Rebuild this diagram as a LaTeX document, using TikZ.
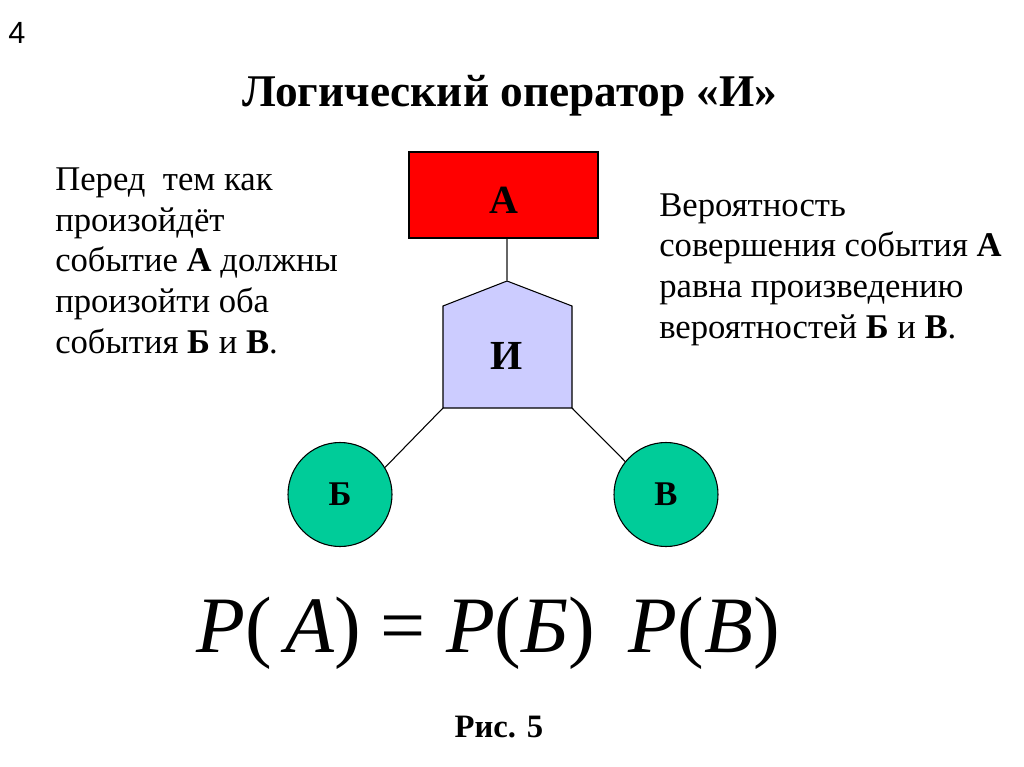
\documentclass[tikz,border=0pt]{standalone}
\usepackage{fontspec}
\setmainfont{Liberation Serif}
\newfontfamily\pagefont{Liberation Sans}
\definecolor{topred}{RGB}{255,0,0}
\definecolor{gatefill}{RGB}{204,204,255}
\definecolor{leaffill}{RGB}{0,204,153}

\begin{document}
\begin{tikzpicture}[x=0.75pt,y=-0.75pt,
    txt/.style={align=left,anchor=base west,inner sep=0pt,font=\fontsize{26}{30.4}\selectfont},
    leaf/.style={circle,draw,line width=0.8pt,fill=leaffill,minimum size=78pt,inner sep=0pt,font=\fontsize{26}{30}\selectfont\bfseries},
    link/.style={line width=0.8pt}
    ]
  \useasboundingbox (0,0) rectangle (1024,767);
  \node [anchor=base west,inner sep=0pt,font=\pagefont\fontsize{23}{27}\selectfont] (page) at (8,44) {4};
  \node [anchor=base,inner sep=0pt,font=\fontsize{34}{40}\selectfont\bfseries] (title) at (510,107) {Логический оператор «И»};
  % base of a multi-line node is its last line
  \node [txt] (left) at (55,353) {Перед~ тем как\\произойдёт\\событие \textbf{А} должны\\произойти оба\\события \textbf{Б} и \textbf{В}.};
  \node [txt] (right) at (659,338) {Вероятность\\совершения события \textbf{А}\\равна произведению\\вероятностей \textbf{Б} и \textbf{В}.};
  % event tree
  \node [draw,line width=0.8pt,fill=topred,minimum width=141.75pt,minimum height=64.5pt,inner sep=0pt,text height=27.5pt,text depth=0pt,font=\fontsize{30}{34}\selectfont\bfseries] (a) at (503.5,195) {А};
  \coordinate (top) at (507,281);
  \coordinate (andL) at (443,408);
  \coordinate (andR) at (572,408);
  \draw [line width=0.8pt,fill=gatefill] (top) -- (572,306) -- (andR) -- (andL) -- (443,306) -- cycle;
  \node [font=\fontsize{31}{36}\selectfont\bfseries] (and) at (507,356) {И};
  \node [leaf] (b) at (340,494.5) {Б};
  \node [leaf] (c) at (666,494.5) {В};
  \draw [link,black!60] (top |- a.south) -- (top);
  \draw [link] (andL) -- (b.31);
  \draw [link] (andR) -- (c.141);
  % formula
  \node [anchor=base,inner sep=0pt,font=\fontsize{60}{66}\selectfont] (formula) at (488,652) {\textit{P}(\,\textit{A}) = \textit{P}(\textit{Б})\, \textit{P}(\textit{В})};
  \node [anchor=base,inner sep=0pt,font=\fontsize{24.5}{29}\selectfont\bfseries] (caption) at (499,737) {Рис. 5};
\end{tikzpicture}
\end{document}
